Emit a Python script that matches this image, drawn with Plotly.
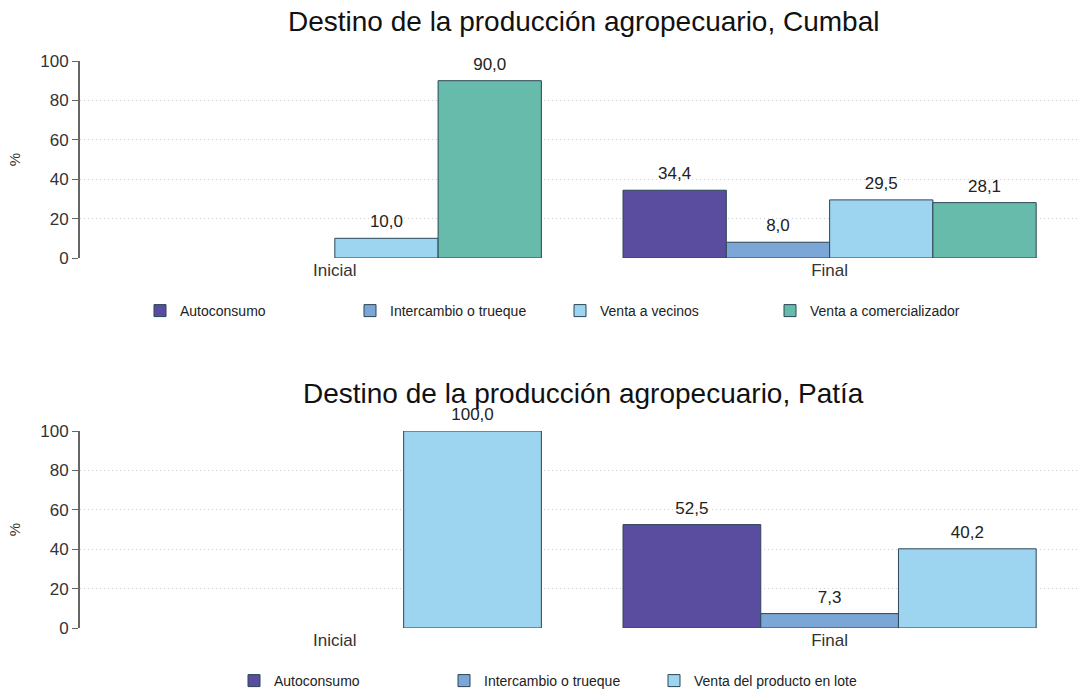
import plotly.graph_objects as go

categories = ["Inicial", "Final"]

# Cumbal (None = no bar drawn)
cumbal_series = ["Autoconsumo", "Intercambio o trueque", "Venta a vecinos", "Venta a comercializador"]
cumbal_autoconsumo = [None, 34.4]
cumbal_intercambio = [None, 8.0]
cumbal_vecinos = [10.0, 29.5]
cumbal_comercializador = [90.0, 28.1]

# Patía
patia_series = ["Autoconsumo", "Intercambio o trueque", "Venta del producto en lote"]
patia_autoconsumo = [None, 52.5]
patia_intercambio = [None, 7.3]
patia_lote = [100.0, 40.2]

y_ticks = [0, 20, 40, 60, 80, 100]

c_auto = "#5A4C9E"
c_inter = "#7BA6D6"
c_vec = "#9DD4F0"
c_com = "#67BBAA"
outline = "#2B4656"

W, H = 1077, 692
GAP = 0.165


def lbl(vals):
    return [("%.1f" % v).replace(".", ",") if v is not None else "" for v in vals]


fig = go.Figure()


def add_panel(series, xa, ya, leg):
    for name, vals, col in series:
        fig.add_trace(go.Bar(
            x=categories, y=vals, name=name, xaxis=xa, yaxis=ya,
            marker=dict(color=col, line=dict(color=outline, width=1)),
            legend=leg, hoverinfo="skip", offsetgroup=name,
        ))
    for name, vals, col in series:
        fig.add_trace(go.Scatter(
            x=categories, y=vals, mode="markers+text", xaxis=xa, yaxis=ya,
            text=lbl(vals), textposition="top center",
            textfont=dict(size=17, color="#222"),
            marker=dict(size=9, opacity=0), cliponaxis=False,
            showlegend=False, hoverinfo="skip", offsetgroup=name,
        ))


add_panel([(cumbal_series[0], cumbal_autoconsumo, c_auto),
           (cumbal_series[1], cumbal_intercambio, c_inter),
           (cumbal_series[2], cumbal_vecinos, c_vec),
           (cumbal_series[3], cumbal_comercializador, c_com)], "x", "y", "legend")
add_panel([(patia_series[0], patia_autoconsumo, c_auto),
           (patia_series[1], patia_intercambio, c_inter),
           (patia_series[2], patia_lote, c_vec)], "x2", "y2", "legend2")

xdom = [80 / W, 1.0]
ydom1 = [1 - 258 / H, 1 - 61 / H]
ydom2 = [1 - 628 / H, 1 - 431 / H]

yax = dict(range=[0, 100], tickvals=y_ticks, showgrid=True, gridcolor="#CFCFCF",
           griddash="1px,3px", gridwidth=1, showline=True, linecolor="#666", linewidth=2,
           ticks="outside", ticklen=6, tickcolor="#666", zeroline=False,
           tickfont=dict(size=17, color="#333"),
           title=dict(text="%", font=dict(size=15, color="#333"), standoff=16))
xax = dict(showgrid=False, showline=False, ticks="", zeroline=False,
           tickfont=dict(size=17, color="#333"), range=[-0.515, 1.5])

legcommon = dict(orientation="h", xanchor="left", yanchor="middle",
                 font=dict(size=14, color="#222"), entrywidth=165, entrywidthmode="pixels",
                 bgcolor="rgba(0,0,0,0)", itemclick=False)

fig.update_layout(
    width=W, height=H,
    margin=dict(l=0, r=0, t=0, b=0, autoexpand=False),
    paper_bgcolor="white", plot_bgcolor="white",
    font=dict(family="Liberation Sans, Arial, sans-serif", color="#222"),
    barmode="group", bargap=GAP, bargroupgap=0,
    scattermode="group", scattergap=GAP,
    separators=",.",
    xaxis=dict(domain=xdom, anchor="y", **xax),
    yaxis=dict(domain=ydom1, anchor="x", **yax),
    xaxis2=dict(domain=xdom, anchor="y2", **xax),
    yaxis2=dict(domain=ydom2, anchor="x2", **yax),
    legend=dict(x=140 / W, y=1 - 311 / H, **legcommon),
    legend2=dict(x=234 / W, y=1 - 681 / H, **legcommon),
    annotations=[
        dict(text="Destino de la producción agropecuario, Cumbal", xref="paper", yref="paper",
             x=583 / W, y=1 - 22 / H, xanchor="center", yanchor="middle", showarrow=False,
             font=dict(size=28, color="#111")),
        dict(text="Destino de la producción agropecuario, Patía", xref="paper", yref="paper",
             x=583 / W, y=1 - 393 / H, xanchor="center", yanchor="middle", showarrow=False,
             font=dict(size=28, color="#111")),
    ],
    showlegend=True,
)

fig.write_html("out.html", config={"displayModeBar": False},
               post_script="document.body.style.margin='0';")
